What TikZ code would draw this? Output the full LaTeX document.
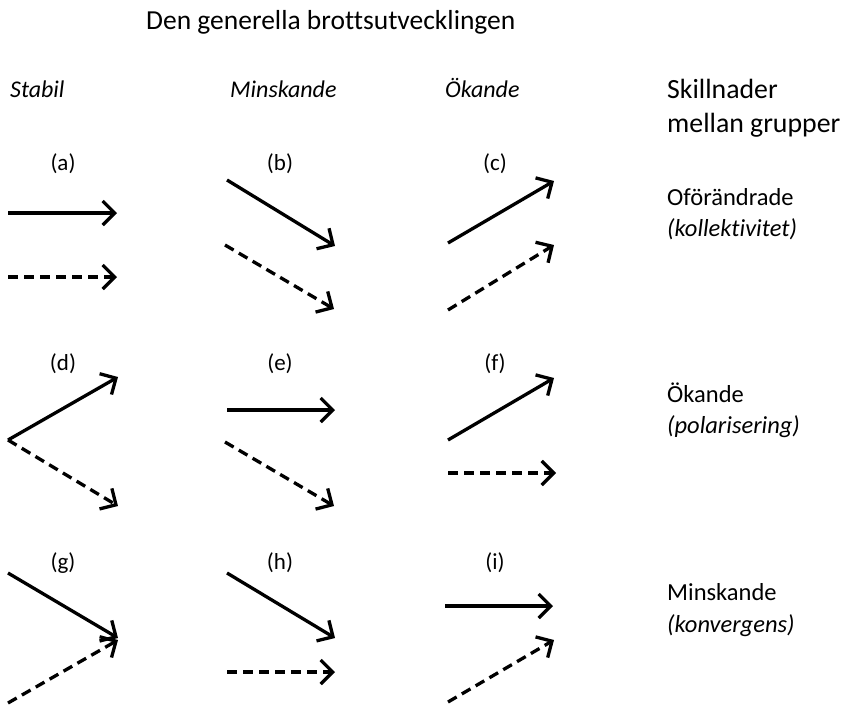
\documentclass[tikz,border=0pt]{standalone}
\usepackage{fontspec}
\setmainfont{Carlito}[Ligatures=NoCommon]
\usetikzlibrary{arrows.meta}
\begin{document}
\begin{tikzpicture}[x=1pt,y=-1pt,
  arr/.style={line width=3.3pt,-{Straight Barb[length=12pt,width=24pt]}},
  sol/.style={arr},
  dsh/.style={arr,dash pattern=on 10pt off 6pt},
  lbl/.style={anchor=base,font=\fontsize{23}{27}\selectfont,inner sep=0pt},
  hd/.style={anchor=base west,font=\fontsize{24}{28}\selectfont\itshape,inner sep=0pt},
  rt/.style={anchor=base west,font=\fontsize{24.5}{29}\selectfont,inner sep=0pt},
  rti/.style={anchor=base west,font=\fontsize{24.5}{29}\selectfont\itshape,inner sep=0pt},
  big/.style={anchor=base west,inner sep=0pt,font=\fontsize{27.8}{33}\selectfont},
]
\useasboundingbox (0,0) rectangle (845,707);
\node[anchor=base west,inner sep=0pt,font=\fontsize{27.5}{33}\selectfont] (title) at (146,29) {Den generella brottsutvecklingen};
\node[hd] (h1) at (10,97) {Stabil};
\node[hd] (h2) at (230,97) {Minskande};
\node[hd] (h3) at (445,97) {Ökande};
\node[big] (s1) at (667,98) {Skillnader};
\node[big] (s2) at (667,132) {mellan grupper};
% labels
\node[lbl] (la) at (63,170) {(a)};
\node[lbl] (lb) at (280,170) {(b)};
\node[lbl] (lc) at (495,170) {(c)};
\node[lbl] (ld) at (63,370) {(d)};
\node[lbl] (le) at (280,370) {(e)};
\node[lbl] (lf) at (495,370) {(f)};
\node[lbl] (lg) at (63,569) {(g)};
\node[lbl] (lh) at (280,569) {(h)};
\node[lbl] (li) at (495,569) {(i)};
% right texts
\node[rt] (r1) at (667,205) {Oförändrade};
\node[rti] (r1b) at (667,236) {(kollektivitet)};
\node[rt] (r2) at (667,402) {Ökande};
\node[rti] (r2b) at (667,433) {(polarisering)};
\node[rt] (r3) at (667,600) {Minskande};
\node[rti] (r3b) at (667,632) {(konvergens)};
% coordinates
\coordinate (a1) at (8,213); \coordinate (a2) at (117,213);
\coordinate (a3) at (8,277); \coordinate (a4) at (117,277);
\coordinate (b1) at (227,180); \coordinate (b2) at (335,246);
\coordinate (b3) at (225,245); \coordinate (b4) at (334,309);
\coordinate (c1) at (448,243); \coordinate (c2) at (554,181);
\coordinate (c3) at (448,310); \coordinate (c4) at (554,245);
\coordinate (d0) at (8,440); \coordinate (d1) at (118,377); \coordinate (d2) at (118,506);
\coordinate (e1) at (227,410); \coordinate (e2) at (335,410);
\coordinate (e3) at (225,442); \coordinate (e4) at (334,506);
\coordinate (f1) at (448,440); \coordinate (f2) at (554,378);
\coordinate (f3) at (448,473); \coordinate (f4) at (556,473);
\coordinate (g1) at (8,573); \coordinate (g2) at (118,638);
\coordinate (g3) at (8,703); \coordinate (g4) at (118,640);
\coordinate (hh1) at (227,573); \coordinate (hh2) at (335,638);
\coordinate (hh3) at (227,672); \coordinate (hh4) at (335,672);
\coordinate (i1) at (445,606); \coordinate (i2) at (553,606);
\coordinate (i3) at (448,702); \coordinate (i4) at (554,640);
\draw[sol] (a1) -- (a2);
\draw[dsh] (a3) -- (a4);
\draw[sol] (b1) -- (b2);
\draw[dsh] (b3) -- (b4);
\draw[sol] (c1) -- (c2);
\draw[dsh] (c3) -- (c4);
\draw[sol] (d0) -- (d1);
\draw[dsh] (d0) -- (d2);
\draw[sol] (e1) -- (e2);
\draw[dsh] (e3) -- (e4);
\draw[sol] (f1) -- (f2);
\draw[dsh] (f3) -- (f4);
\draw[sol] (g1) -- (g2);
\draw[dsh] (g3) -- (g4);
\draw[sol] (hh1) -- (hh2);
\draw[dsh] (hh3) -- (hh4);
\draw[sol] (i1) -- (i2);
\draw[dsh] (i3) -- (i4);
\end{tikzpicture}
\end{document}
